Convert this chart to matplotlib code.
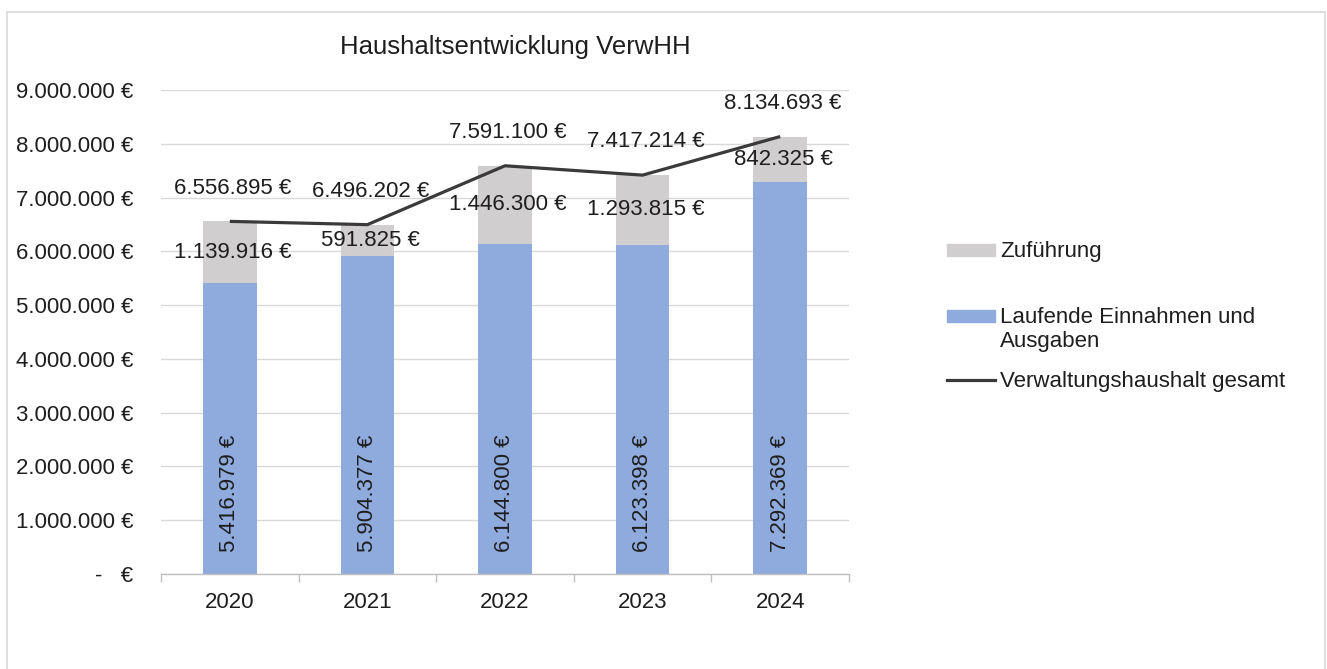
import matplotlib
matplotlib.use("Agg")
import matplotlib.pyplot as plt
import matplotlib.patches as mpatches
from matplotlib.lines import Line2D
from matplotlib.legend_handler import HandlerPatch
from matplotlib.ticker import FuncFormatter, FixedLocator
import numpy as np

# ---- data ----
years = ["2020", "2021", "2022", "2023", "2024"]
laufende = [5416979, 5904377, 6144800, 6123398, 7292369]
zufuehrung = [1139916, 591825, 1446300, 1293815, 842325]
gesamt = [6556895, 6496202, 7591100, 7417214, 8134693]
y_ticks = [0, 1000000, 2000000, 3000000, 4000000, 5000000, 6000000, 7000000, 8000000, 9000000]

title = "Haushaltsentwicklung VerwHH"
lbl_zuf = "Zuführung"
lbl_lauf = "Laufende Einnahmen und\nAusgaben"
lbl_ges = "Verwaltungshaushalt gesamt"

# ---- style ----
C_BLUE = "#8faadc"
C_GRAY = "#d0cece"
C_LINE = "#3a3a3a"
C_GRID = "#d9d9d9"
C_TEXT = "#1e1e1e"
FS = 16

plt.rcParams["font.family"] = ["Liberation Sans", "DejaVu Sans"]

W, H = 1327, 669
fig = plt.figure(figsize=(W / 100, H / 100), dpi=100)

def fx(px):
    return px / W

def fy(py):
    return 1 - py / H

ax = fig.add_axes([fx(161), fy(574), fx(849) - fx(161), fy(90) - fy(574)])

def eur(v):
    return f"{v:,.0f}".replace(",", ".") + " €"

x = np.arange(len(years))
bw = 0.39
ax.bar(x, laufende, width=bw, color=C_BLUE, zorder=2, label=lbl_lauf)
ax.bar(x, zufuehrung, width=bw, bottom=laufende, color=C_GRAY, zorder=2, label=lbl_zuf)
ax.plot(x, gesamt, color=C_LINE, lw=2.3, zorder=3, solid_capstyle="butt",
        label=lbl_ges)

ax.set_xlim(-0.5, len(years) - 0.5)
ax.set_ylim(0, 9000000)

# grid
ax.yaxis.set_major_locator(FixedLocator(y_ticks))
ax.grid(axis="y", color=C_GRID, lw=1.0, zorder=0)
ax.set_axisbelow(True)

def yfmt(v, pos):
    if abs(v) < 0.5:
        return "-   €"
    return eur(v)

ax.yaxis.set_major_formatter(FuncFormatter(yfmt))
ax.tick_params(axis="y", length=0, pad=20, labelsize=FS, labelcolor=C_TEXT)

ax.set_xticks(x)
ax.set_xticklabels(years)
ax.set_xticks(np.arange(-0.5, len(years)), minor=True)
ax.tick_params(axis="x", which="major", length=0, pad=13, labelsize=FS,
               labelcolor=C_TEXT)
ax.tick_params(axis="x", which="minor", length=6, width=1, color="#bfbfbf")

for s in ["left", "right", "top"]:
    ax.spines[s].set_visible(False)
ax.spines["bottom"].set_color("#bfbfbf")
ax.spines["bottom"].set_linewidth(1.0)

# labels
for i in range(len(years)):
    ax.annotate(eur(gesamt[i]), (x[i], gesamt[i]), xytext=(2, 24),
                textcoords="offset points", ha="center", va="center",
                fontsize=FS, color=C_TEXT, zorder=5)
    ax.annotate(eur(zufuehrung[i]), (x[i], laufende[i] + zufuehrung[i] / 2),
                xytext=(2, 0), textcoords="offset points", ha="center",
                va="center", fontsize=FS, color=C_TEXT, zorder=5)
    ax.annotate(eur(laufende[i]), (x[i], 0), xytext=(0, 16),
                textcoords="offset points", ha="center", va="bottom",
                rotation=90, fontsize=FS, color=C_TEXT, zorder=5)

fig.text(fx(515), fy(47), title, ha="center", va="center", fontsize=18.5,
         color=C_TEXT)

# legend
def top_rect(legend, orig_handle, xdescent, ydescent, width, height, fontsize):
    return mpatches.Rectangle((-xdescent, -ydescent + 0.6 * fontsize), width, height)

common = dict(frameon=False, fontsize=FS, borderpad=0, borderaxespad=0,
              handlelength=2.15, handleheight=0.45, handletextpad=0.25,
              loc="center left", bbox_transform=fig.transFigure)
for t in common.get("labelcolor", []):
    pass

leg1 = fig.legend([mpatches.Patch(color=C_GRAY)], [lbl_zuf],
                  bbox_to_anchor=(fx(947), fy(252)), **common)
leg2 = fig.legend([mpatches.Patch(color=C_BLUE)], [lbl_lauf],
                  bbox_to_anchor=(fx(947), fy(329.5)),
                  handler_map={mpatches.Patch: HandlerPatch(patch_func=top_rect)},
                  **common)
leg3 = fig.legend([Line2D([], [], color=C_LINE, lw=2.3)], [lbl_ges],
                  bbox_to_anchor=(fx(947), fy(381)), **common)
for lg in (leg1, leg2, leg3):
    for t in lg.get_texts():
        t.set_color(C_TEXT)

# chart frame
fig.patches.append(mpatches.Rectangle((fx(7), -0.05), fx(1325) - fx(7), fy(12) + 0.05,
                                      transform=fig.transFigure, fill=False,
                                      edgecolor="#d9d9d9", lw=1.2))

fig.savefig("out.png", dpi=100, facecolor="white")
